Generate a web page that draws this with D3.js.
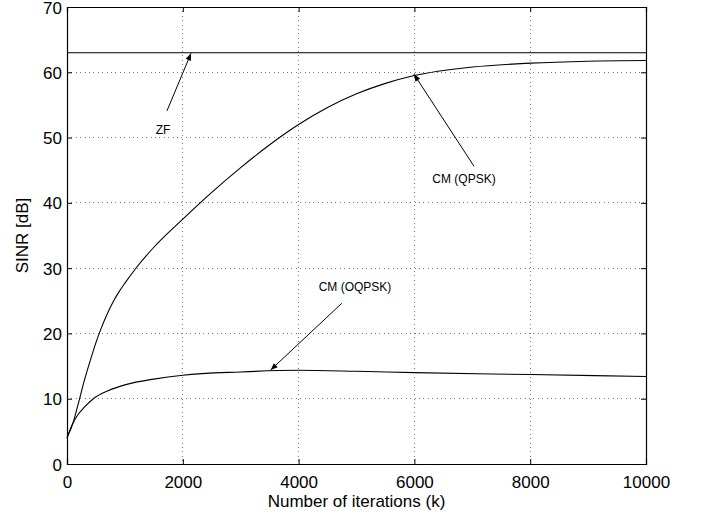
<!DOCTYPE html>
<html>
<head>
<meta charset="utf-8">
<script src="https://cdn.jsdelivr.net/npm/d3@7"></script>
<style>
  html, body { margin: 0; padding: 0; background: #fff; }
  svg text { font-family: "Liberation Sans", Arial, Helvetica, sans-serif; fill: #000; }
</style>
</head>
<body>
<div id="chart"></div>
<script>
// iterations (k) and SINR [dB]
const qpskIter = [0, 100, 200, 300, 400, 500, 600, 700, 800, 900, 1000, 1200, 1500, 2000, 2500, 3000, 3500, 4000, 4500, 5000, 5500, 6000, 7000, 8000, 9000, 10000];
const qpskSinr = [4.0, 6.2, 9.4, 12.8, 15.8, 18.6, 21.0, 23.1, 24.9, 26.4, 27.7, 30.1, 33.2, 37.5, 41.6, 45.4, 48.9, 52.0, 54.6, 56.7, 58.3, 59.5, 60.8, 61.4, 61.7, 61.8];

const oqpskIter = [0, 100, 200, 300, 455, 700, 1031, 1500, 2000, 3000, 4000, 5000, 6000, 8000, 10000];
const oqpskSinr = [4.0, 6.2, 7.7, 8.7, 10.0, 11.2, 12.2, 13.0, 13.6, 14.1, 14.35, 14.2, 14.0, 13.7, 13.4];

const zfSinr = 63;

const xTicks = [0, 2000, 4000, 6000, 8000, 10000];
const yTicks = [0, 10, 20, 30, 40, 50, 60, 70];

// annotations: label, text position, arrow tail, arrow head (data units)
const notes = [
  { label: "ZF", tx: 1658, ty: 50.5, x1: 1727, y1: 54.1, x2: 2142, y2: 62.9 },
  { label: "CM (QPSK)", tx: 6857, ty: 43.0, x1: 7030, y1: 45.6, x2: 5993, y2: 59.7 },
  { label: "CM (OQPSK)", tx: 4974, ty: 26.5, x1: 4744, y1: 24.6, x2: 3518, y2: 14.4 }
];

const W = 705, H = 518;
const margin = { top: 7, right: 59, bottom: 54, left: 67 };
const width = W - margin.left - margin.right;
const height = H - margin.top - margin.bottom;

const svg = d3.select('#chart').append('svg')
  .attr('width', W)
  .attr('height', H);

svg.append('defs').append('marker')
  .attr('id', 'arrow')
  .attr('viewBox', '0 0 10 10')
  .attr('refX', 10).attr('refY', 5)
  .attr('markerWidth', 9).attr('markerHeight', 7)
  .attr('markerUnits', 'userSpaceOnUse')
  .attr('orient', 'auto')
  .append('path')
  .attr('d', 'M0,1 L10,5 L0,9 Z')
  .attr('fill', '#000');

const g = svg.append('g').attr('transform', `translate(${margin.left},${margin.top})`);

const x = d3.scaleLinear().domain([0, 10000]).range([0, width]);
const y = d3.scaleLinear().domain([0, 70]).range([height, 0]);

// Grid (dotted)
g.append('g').selectAll('line')
  .data(xTicks.slice(1, -1))
  .enter().append('line')
  .attr('x1', d => x(d)).attr('x2', d => x(d))
  .attr('y1', 0).attr('y2', height)
  .attr('stroke', '#777').attr('stroke-width', 1)
  .attr('stroke-dasharray', '1,3.4')
  .attr('shape-rendering', 'crispEdges');

g.append('g').selectAll('line')
  .data(yTicks.slice(1, -1))
  .enter().append('line')
  .attr('x1', 0).attr('x2', width)
  .attr('y1', d => y(d)).attr('y2', d => y(d))
  .attr('stroke', '#777').attr('stroke-width', 1)
  .attr('stroke-dasharray', '1,3.4')
  .attr('shape-rendering', 'crispEdges');

// Axes, ticks inward on all four sides
const tickLen = 5;
const xAxis = g.append('g').attr('transform', `translate(0,${height})`)
  .call(d3.axisBottom(x).tickValues(xTicks).tickSize(-tickLen).tickPadding(12).tickFormat(d3.format('d')));
const xTop = g.append('g')
  .call(d3.axisTop(x).tickValues(xTicks).tickSize(-tickLen).tickFormat(''));
const yAxis = g.append('g')
  .call(d3.axisLeft(y).tickValues(yTicks).tickSize(-tickLen).tickPadding(5).tickFormat(d3.format('d')));
const yRight = g.append('g').attr('transform', `translate(${width},0)`)
  .call(d3.axisRight(y).tickValues(yTicks).tickSize(-tickLen).tickFormat(''));

[xAxis, xTop, yAxis, yRight].forEach(a => {
  a.select('.domain').attr('stroke', '#000').attr('stroke-width', 1.2);
  a.selectAll('.tick line').attr('stroke', '#000');
  a.selectAll('.tick text').attr('font-size', '17px').attr('fill', '#000');
});
yAxis.selectAll('.tick text').attr('dy', '0.36em');

// Curves
const line = d3.line()
  .x(d => x(d[0]))
  .y(d => y(d[1]))
  .curve(d3.curveMonotoneX);

g.append('path')
  .datum(qpskIter.map((k, i) => [k, qpskSinr[i]]))
  .attr('d', line)
  .attr('fill', 'none').attr('stroke', '#000').attr('stroke-width', 1.1);

g.append('path')
  .datum(oqpskIter.map((k, i) => [k, oqpskSinr[i]]))
  .attr('d', line)
  .attr('fill', 'none').attr('stroke', '#000').attr('stroke-width', 1.1);

g.append('line')
  .attr('x1', x(0)).attr('x2', x(10000))
  .attr('y1', y(zfSinr)).attr('y2', y(zfSinr))
  .attr('stroke', '#000').attr('stroke-width', 1.1);

// Annotations
notes.forEach(n => {
  g.append('line')
    .attr('x1', x(n.x1)).attr('y1', y(n.y1))
    .attr('x2', x(n.x2)).attr('y2', y(n.y2))
    .attr('stroke', '#000').attr('stroke-width', 1)
    .attr('marker-end', 'url(#arrow)');
  g.append('text')
    .attr('x', x(n.tx)).attr('y', y(n.ty))
    .attr('text-anchor', 'middle')
    .attr('font-size', '12px')
    .text(n.label);
});

// Axis labels
svg.append('text')
  .attr('x', margin.left + width / 2)
  .attr('y', 507)
  .attr('text-anchor', 'middle')
  .attr('font-size', '17px')
  .text('Number of iterations (k)');

svg.append('text')
  .attr('transform', `translate(28,${margin.top + height / 2}) rotate(-90)`)
  .attr('text-anchor', 'middle')
  .attr('font-size', '17px')
  .text('SINR [dB]');
</script>
</body>
</html>
